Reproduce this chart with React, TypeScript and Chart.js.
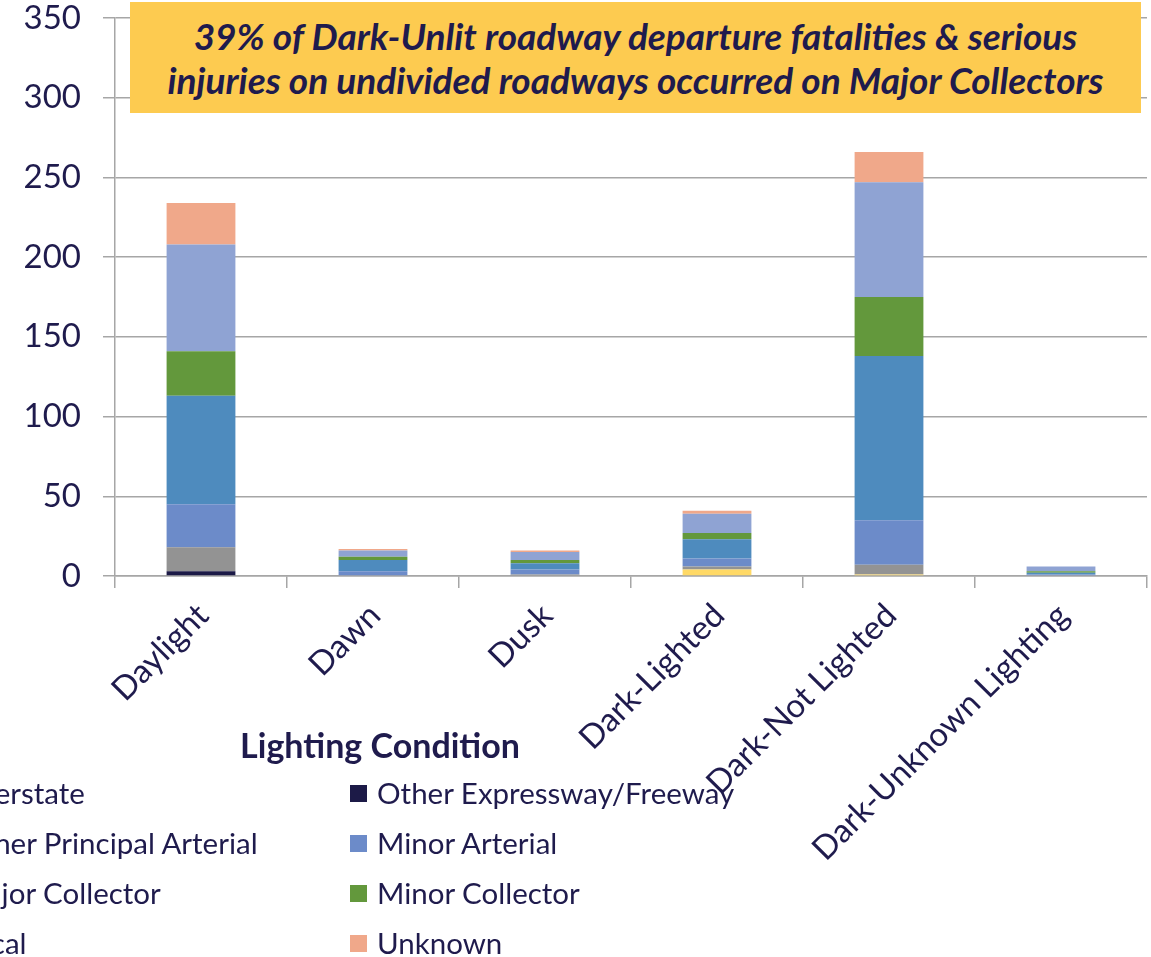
import React, { useEffect, useRef } from "react";
import { Chart, registerables } from "chart.js";

Chart.register(...registerables);

const categories = ["Daylight", "Dawn", "Dusk", "Dark-Lighted", "Dark-Not Lighted", "Dark-Unknown Lighting"];
const interstate = [0, 0, 0, 4, 1, 0];
const otherExpressway = [3, 0, 0, 0, 0, 0];
const otherPrincipalArterial = [15, 0, 1, 2, 6, 0];
const minorArterial = [27, 3, 3, 5, 28, 1];
const majorCollector = [68, 7, 4, 12, 103, 1];
const minorCollector = [28, 2, 2, 4, 37, 1];
const local = [67, 4, 5, 12, 72, 3];
const unknown = [26, 1, 1, 2, 19, 0];
const yTicks = [0, 50, 100, 150, 200, 250, 300, 350];

const seriesNames = [
  "Interstate",
  "Other Expressway/Freeway",
  "Other Principal Arterial",
  "Minor Arterial",
  "Major Collector",
  "Minor Collector",
  "Local",
  "Unknown",
];
const seriesValues = [interstate, otherExpressway, otherPrincipalArterial, minorArterial, majorCollector, minorCollector, local, unknown];
const seriesColors = ["#FFD966", "#1C1A47", "#939393", "#6C8BC9", "#4E8BBE", "#63983C", "#8FA3D3", "#F0A88A"];

const titleLines = [
  "39% of Dark-Unlit roadway departure fatalities & serious",
  "injuries on undivided roadways occurred on Major Collectors",
];
const xAxisTitle = "Lighting Condition";

const TEXT = "#1F1B4D";
const GRID = "#A6A6A6";
const FONT = "Lato, 'Open Sans', sans-serif";

export default function App() {
  const ref = useRef<HTMLCanvasElement | null>(null);

  useEffect(() => {
    if (!ref.current) return;
    const chart = new Chart(ref.current, {
      type: "bar",
      data: {
        labels: categories,
        datasets: seriesNames.map((name, i) => ({
          label: name,
          data: seriesValues[i],
          backgroundColor: seriesColors[i],
          borderWidth: 0,
          barPercentage: 0.4,
          categoryPercentage: 1,
        })),
      },
      options: {
        responsive: false,
        animation: false,
        layout: { padding: { top: 18, right: 4, left: 0, bottom: 0 } },
        plugins: { legend: { display: false }, tooltip: { enabled: false }, title: { display: false } },
        scales: {
          x: {
            stacked: true,
            offset: true,
            grid: { display: true, drawOnChartArea: false, drawTicks: true, tickLength: 12, color: GRID, lineWidth: 1.5, offset: true },
            border: { display: true, color: GRID, width: 1.5 },
            ticks: {
              autoSkip: false,
              minRotation: 45,
              maxRotation: 45,
              padding: 8,
              labelOffset: 2,
              color: TEXT,
              font: { family: FONT, size: 33 },
            },
            afterFit: (s: any) => {
              s.height = 381;
              s.paddingLeft = 0;
              s.paddingRight = 0;
            },
          },
          y: {
            stacked: true,
            min: 0,
            max: 350,
            afterBuildTicks: (s: any) => {
              s.ticks = yTicks.map((v) => ({ value: v }));
            },
            grid: { color: GRID, lineWidth: 1.5, drawTicks: true, tickLength: 12 },
            border: { display: true, color: GRID, width: 1.5 },
            ticks: { padding: 22, color: TEXT, font: { family: FONT, size: 33 } },
            afterFit: (s: any) => {
              s.width = 115;
              s.paddingTop = 0;
              s.paddingBottom = 0;
            },
          },
        },
      },
    });
    return () => chart.destroy();
  }, []);

  return (
    <div style={{ position: "fixed", left: 0, top: 0, width: 1151, height: 957, overflow: "hidden", background: "#fff", fontFamily: FONT, color: TEXT }}>
      <canvas ref={ref} width={1151} height={957} style={{ position: "absolute", left: 0, top: 0, width: 1151, height: 957 }} />
      <div
        style={{
          position: "absolute",
          left: 130,
          top: 2,
          width: 1011,
          height: 111,
          background: "#FDCB50",
          display: "flex",
          flexDirection: "column",
          justifyContent: "center",
          alignItems: "center",
          fontWeight: 700,
          fontStyle: "italic",
          fontSize: 37,
          lineHeight: "44px",
        }}
      >
        {titleLines.map((t) => (
          <div key={t} style={{ whiteSpace: "nowrap" }}>{t}</div>
        ))}
      </div>
      <div style={{ position: "absolute", left: 130, width: 500, top: 725, lineHeight: "40px", textAlign: "center", fontWeight: 700, fontSize: 34 }}>
        {xAxisTitle}
      </div>
      {seriesNames.map((name, i) => {
        const col = i % 2;
        const row = Math.floor(i / 2);
        const textX = col === 0 ? -40 : 377;
        const cy = 793 + row * 50;
        return (
          <div key={name}>
            <div style={{ position: "absolute", left: textX - 27, top: cy - 8, width: 17, height: 17, background: seriesColors[i] }} />
            <div style={{ position: "absolute", left: textX, top: cy - 19, lineHeight: "38px", fontSize: 29.5, whiteSpace: "nowrap" }}>{name}</div>
          </div>
        );
      })}
    </div>
  );
}
